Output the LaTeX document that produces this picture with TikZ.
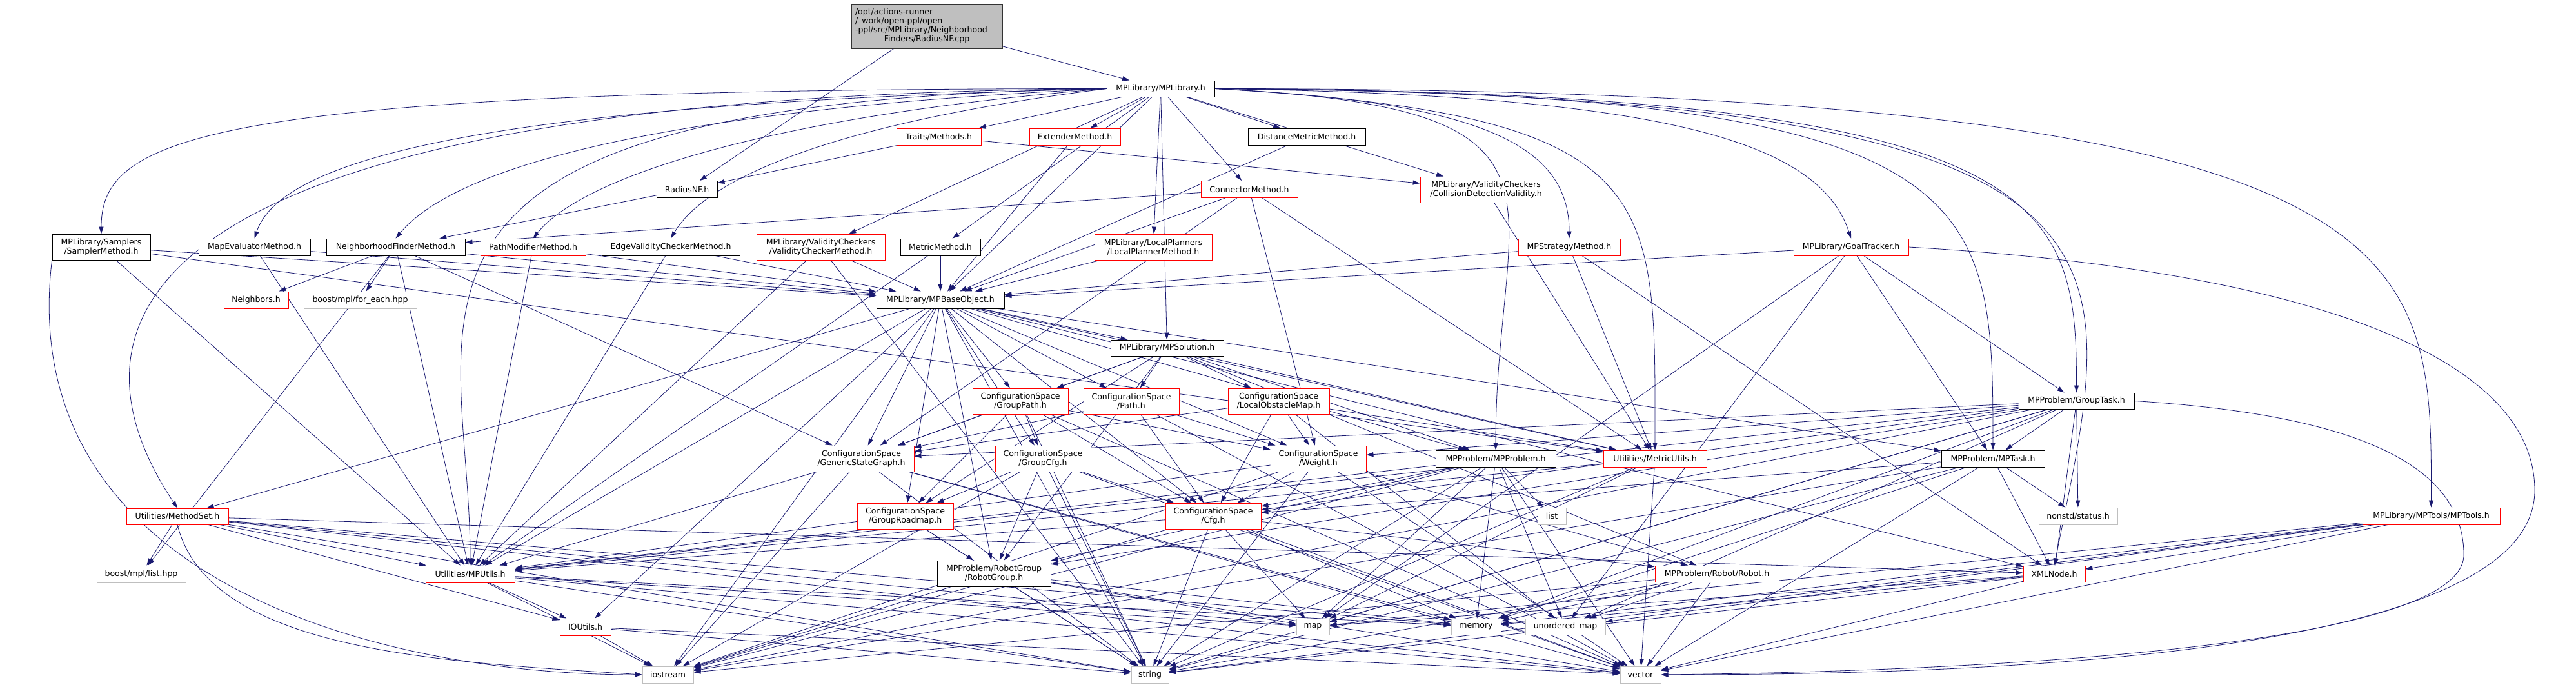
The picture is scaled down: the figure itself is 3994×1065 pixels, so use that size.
\documentclass[tikz,border=0pt]{standalone}
\usepackage{fontspec}
\setmainfont{DejaVu Sans}
\usetikzlibrary{arrows.meta}
\definecolor{EdgeBlue}{HTML}{191970}
\definecolor{TruncRed}{HTML}{FF0000}
\definecolor{ExtGray}{HTML}{BFBFBF}
\newcommand{\gvfont}{\fontsize{12.5}{14}\selectfont}
\pgfdeclarelayer{edges}
\pgfsetlayers{edges,main}
\begin{document}
\begin{tikzpicture}[x=1pt, y=-1pt,
  file/.style={draw=black, fill=white, line width=0.9pt, inner sep=0pt, align=center, font=\gvfont},
  trunc/.style={file, draw=TruncRed},
  ext/.style={file, draw=ExtGray},
  top/.style={file, fill=ExtGray, draw=black!80},
  dep/.style={draw=EdgeBlue, line width=0.8pt, -{Triangle[length=11pt,width=7pt]}},
]
\useasboundingbox (0,0) rectangle (3994,1065);
% source file and first level
\node[top, minimum width=234, minimum height=69, text width=222, align=left] (src) at (1437,40.5)
  {/opt/actions-runner\\/\_work/open-ppl/open\\-ppl/src/MPLibrary/Neighborhood\\\makebox[\linewidth][c]{Finders/RadiusNF.cpp}};
\node[file, minimum width=167, minimum height=25] (mplib) at (1799.5,137.5) {MPLibrary/MPLibrary.h};
\node[trunc, minimum width=131, minimum height=26] (traits) at (1455.5,212) {Traits/Methods.h};
\node[trunc, minimum width=141, minimum height=26] (ext) at (1666.5,212) {ExtenderMethod.h};
\node[file, minimum width=182, minimum height=26] (dm) at (2026,212) {DistanceMetricMethod.h};
\node[trunc, minimum width=150, minimum height=26] (con) at (1937,293.5) {ConnectorMethod.h};
\node[trunc, minimum width=204, minimum height=40] (cd) at (2304,294) {MPLibrary/ValidityCheckers\\/CollisionDetectionValidity.h};
\node[file, minimum width=94, minimum height=26] (rnf) at (1065,293.5) {RadiusNF.h};
% method row
\node[file, minimum width=152, minimum height=40] (smp) at (157,383) {MPLibrary/Samplers\\/SamplerMethod.h};
\node[file, minimum width=173, minimum height=26] (me) at (394.5,383) {MapEvaluatorMethod.h};
\node[file, minimum width=215, minimum height=26] (nf) at (613.5,383) {NeighborhoodFinderMethod.h};
\node[trunc, minimum width=163, minimum height=26] (pm) at (826.5,383) {PathModifierMethod.h};
\node[file, minimum width=214, minimum height=26] (evc) at (1040,383) {EdgeValidityCheckerMethod.h};
\node[trunc, minimum width=199, minimum height=40] (vc) at (1272.5,383) {MPLibrary/ValidityCheckers\\/ValidityCheckerMethod.h};
\node[file, minimum width=124, minimum height=26] (mm) at (1458,383) {MetricMethod.h};
\node[trunc, minimum width=182, minimum height=40] (lp) at (1788,383) {MPLibrary/LocalPlanners\\/LocalPlannerMethod.h};
\node[trunc, minimum width=158, minimum height=26] (mps) at (2433,383) {MPStrategyMethod.h};
\node[trunc, minimum width=178, minimum height=26] (gt) at (2870,383) {MPLibrary/GoalTracker.h};
% base object row
\node[trunc, minimum width=100, minimum height=26] (nbr) at (397,465) {Neighbors.h};
\node[ext, minimum width=175, minimum height=26] (fe) at (558.5,465) {boost/mpl/for\_each.hpp};
\node[file, minimum width=198, minimum height=26] (base) at (1458,465) {MPLibrary/MPBaseObject.h};
\node[file, minimum width=175, minimum height=25] (sol) at (1809.5,539.5) {MPLibrary/MPSolution.h};
\node[trunc, minimum width=148, minimum height=40] (gpath) at (1582,622) {ConfigurationSpace\\/GroupPath.h};
\node[trunc, minimum width=148, minimum height=40] (path) at (1754,622) {ConfigurationSpace\\/Path.h};
\node[trunc, minimum width=157, minimum height=40] (lom) at (1982.5,622) {ConfigurationSpace\\/LocalObstacleMap.h};
\node[file, minimum width=179, minimum height=25] (gtask) at (3219.5,621.5) {MPProblem/GroupTask.h};
% configuration space row
\node[trunc, minimum width=163, minimum height=40] (gsg) at (1335.5,711) {ConfigurationSpace\\/GenericStateGraph.h};
\node[trunc, minimum width=148, minimum height=40] (gcfg) at (1617,711) {ConfigurationSpace\\/GroupCfg.h};
\node[trunc, minimum width=148, minimum height=40] (wt) at (2044,711) {ConfigurationSpace\\/Weight.h};
\node[file, minimum width=186, minimum height=26] (prob) at (2319,711) {MPProblem/MPProblem.h};
\node[trunc, minimum width=160, minimum height=26] (mu) at (2566,711) {Utilities/MetricUtils.h};
\node[file, minimum width=160, minimum height=26] (task) at (3090,711) {MPProblem/MPTask.h};
\node[trunc, minimum width=158, minimum height=25] (ms) at (275,800.5) {Utilities/MethodSet.h};
\node[trunc, minimum width=149, minimum height=40] (grm) at (1403.5,800) {ConfigurationSpace\\/GroupRoadmap.h};
\node[trunc, minimum width=148, minimum height=40] (cfg) at (1881,800) {ConfigurationSpace\\/Cfg.h};
\node[ext, minimum width=44, minimum height=26] (lst) at (2406,800) {list};
\node[ext, minimum width=122, minimum height=26] (st) at (3222,800) {nonstd/status.h};
\node[trunc, minimum width=213, minimum height=26] (tools) at (3769.5,800) {MPLibrary/MPTools/MPTools.h};
% utilities row
\node[ext, minimum width=138, minimum height=26] (lhpp) at (219,890) {boost/mpl/list.hpp};
\node[trunc, minimum width=138, minimum height=26] (mpu) at (729,890) {Utilities/MPUtils.h};
\node[file, minimum width=176, minimum height=40] (rg) at (1541,889) {MPProblem/RobotGroup\\/RobotGroup.h};
\node[trunc, minimum width=192, minimum height=25] (rob) at (2662,889.5) {MPProblem/Robot/Robot.h};
\node[trunc, minimum width=96, minimum height=25] (xml) at (3185,889.5) {XMLNode.h};
\node[trunc, minimum width=79, minimum height=26] (io) at (907.5,972) {IOUtils.h};
\node[ext, minimum width=51, minimum height=25] (map) at (2035.5,971.5) {map};
\node[ext, minimum width=77, minimum height=25] (mem) at (2288.5,971.5) {memory};
\node[ext, minimum width=124, minimum height=25] (umap) at (2427,971.5) {unordered\_map};
\node[ext, minimum width=79, minimum height=26] (ios) at (1035.5,1046) {iostream};
\node[ext, minimum width=58, minimum height=26] (str) at (1783,1046) {string};
\node[ext, minimum width=63, minimum height=26] (vec) at (2543.5,1046) {vector};
% includes
\begin{pgfonlayer}{edges}
\foreach \t in {mplib,rnf} \draw[dep] (src) -- (\t);
\draw[dep] (rnf) -- (nf);
\foreach \t in {rnf,cd} \draw[dep] (traits) -- (\t);
\foreach \t in {vc,mm,lp,traits,ext,dm,con,cd,base,sol} \draw[dep] (mplib) -- (\t);
\draw[dep] (mplib.west) .. controls +(-1400,0) and +(0,-150) .. (smp.north);
\draw[dep] (mplib.west) .. controls +(-1500,10) and +(-200,-300) .. (ms.north);
\draw[dep] (mplib.west) .. controls +(-800,20) and +(50,-150) .. (me.north);
\draw[dep] (mplib.west) .. controls +(-650,30) and +(100,-120) .. (nf.north);
\draw[dep] (mplib.west) .. controls +(-500,40) and +(80,-100) .. (pm.north);
\draw[dep] (mplib.west) .. controls +(-400,50) and +(60,-100) .. (evc.north);
\draw[dep] (mplib.west) .. controls +(-1200,20) and +(0,-400) .. (mpu.north);
\draw[dep] (mplib.east) .. controls +(400,20) and +(0,-150) .. (mps.north);
\draw[dep] (mplib.east) .. controls +(700,10) and +(-50,-150) .. (gt.north);
\draw[dep] (mplib.east) .. controls +(600,30) and +(0,-400) .. (prob.north);
\draw[dep] (mplib.east) .. controls +(700,40) and +(0,-400) .. (mu.north);
\draw[dep] (mplib.east) .. controls +(1200,5) and +(0,-400) .. (task.north);
\draw[dep] (mplib.east) .. controls +(1300,5) and +(0,-300) .. (gtask.north);
\draw[dep] (mplib.east) .. controls +(1900,0) and +(0,-400) .. (tools.north);
\draw[dep] (mplib.east) .. controls +(1500,10) and +(100,-500) .. (xml.north);
\foreach \t in {base,mpu,mu} \draw[dep] (smp) -- (\t);
\foreach \t in {base,mpu} \draw[dep] (me) -- (\t);
\foreach \t in {nbr,fe,base,mpu,gsg,lhpp} \draw[dep] (nf) -- (\t);
\foreach \t in {base,mpu} \draw[dep] (pm) -- (\t);
\foreach \t in {base,mpu} \draw[dep] (evc) -- (\t);
\foreach \t in {base,mpu,str} \draw[dep] (vc) -- (\t);
\foreach \t in {base,mpu} \draw[dep] (mm) -- (\t);
\draw[dep] (lp) -- (base);
\draw[dep] (ext) -- (base);
\draw[dep] (dm) -- (base);
\foreach \t in {nf,base,gsg,wt,mu} \draw[dep] (con) -- (\t);
\draw[dep] (cd) -- (mu);
\foreach \t in {base,mu,xml} \draw[dep] (mps) -- (\t);
\foreach \t in {base,gtask,task,map,umap} \draw[dep] (gt) -- (\t);
\draw[dep] (gt.east) .. controls (3600,420) and (3930,560) .. (3930,760)
  .. controls (3930,1000) and (3200,1046) .. (vec.east);
\foreach \t in {sol,gpath,path,gsg,gcfg,wt,cfg,mu,prob,task,xml,ms,mpu,io,ios,str,rg,grm}
  \draw[dep] (base) -- (\t);
\foreach \t in {gpath,path,lom,gsg,grm,rg,mu,prob,rob} \draw[dep] (sol) -- (\t);
\foreach \t in {gsg,gcfg,grm,cfg,wt,str,vec} \draw[dep] (gpath) -- (\t);
\foreach \t in {gsg,cfg,wt,vec} \draw[dep] (path) -- (\t);
\foreach \t in {gsg,cfg,wt,umap,mu} \draw[dep] (lom) -- (\t);
\foreach \t in {task,gsg,wt,cfg,st,xml,rg,mpu,mem,map,str,ios,umap} \draw[dep] (gtask) -- (\t);
\draw[dep] (gtask.east) .. controls (3600,640) and (3820,700) .. (3820,860)
  .. controls (3820,1000) and (3100,1040) .. (vec.east);
\foreach \t in {mpu,ios,str,vec,mem} \draw[dep] (gsg) -- (\t);
\foreach \t in {grm,cfg,rg,ios,str,vec} \draw[dep] (gcfg) -- (\t);
\foreach \t in {cfg,mpu,str,vec,ios,rob} \draw[dep] (wt) -- (\t);
\foreach \t in {cfg,mpu,lst,mem,umap,str,vec,ios,map,rg} \draw[dep] (prob) -- (\t);
\foreach \t in {mpu,str,vec,map} \draw[dep] (mu) -- (\t);
\foreach \t in {cfg,st,ios,str,vec,mem,xml} \draw[dep] (task) -- (\t);
\foreach \t in {lhpp,mpu,io,str,vec,map,mem,xml} \draw[dep] (ms) -- (\t);
\draw[dep] (smp.south west) .. controls +(-60,500) and +(-400,0) .. (ios.west);
\draw[dep] (ms.south) .. controls +(50,200) and +(-300,-20) .. (ios.west);
\foreach \t in {rg,str} \draw[dep] (grm) -- (\t);
\foreach \t in {mpu,map,mem,vec,ios,str,rob} \draw[dep] (cfg) -- (\t);
\foreach \t in {xml,mem,str,vec,map,umap} \draw[dep] (tools) -- (\t);
\foreach \t in {io,ios,str,vec,map,mem} \draw[dep] (mpu) -- (\t);
\foreach \t in {map,str,vec,mem,ios} \draw[dep] (rg) -- (\t);
\foreach \t in {mem,umap,str,vec,ios} \draw[dep] (rob) -- (\t);
\foreach \t in {str,vec,mem,map} \draw[dep] (xml) -- (\t);
\foreach \t in {ios,str,vec} \draw[dep] (io) -- (\t);
\end{pgfonlayer}
\end{tikzpicture}
\end{document}
